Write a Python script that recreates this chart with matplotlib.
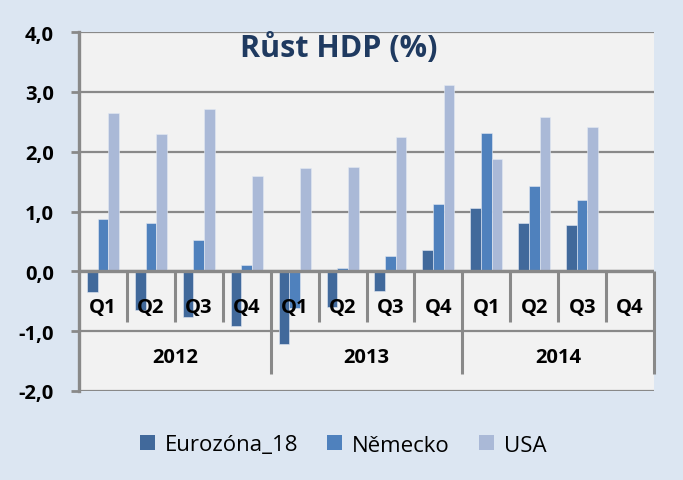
import numpy as np
import matplotlib.pyplot as plt
from matplotlib.patches import Patch

# data
years = ['2012', '2013', '2014']
quarters = ['Q1', 'Q2', 'Q3', 'Q4']
series_names = ['Eurozóna_18', 'Německo', 'USA']
eurozona = [-0.34, -0.65, -0.77, -0.92, -1.22, -0.60, -0.33, 0.36, 1.06, 0.80, 0.78, np.nan]
nemecko = [0.88, 0.81, 0.52, 0.10, -0.62, 0.05, 0.26, 1.13, 2.31, 1.42, 1.19, np.nan]
usa = [2.64, 2.30, 2.72, 1.60, 1.72, 1.75, 2.25, 3.12, 1.88, 2.58, 2.42, np.nan]
yticks = [-2, -1, 0, 1, 2, 3, 4]

colors = ['#41699B', '#4F81BD', '#AAB9D7']
grid_c = '#898989'
font = 'Open Sans'
fs = 14.5

fig = plt.figure(figsize=(6.83, 4.81), dpi=100, facecolor='#DCE6F2')
ax = fig.add_axes([79/683, 1-392/481, 575/683, 359/481])
ax.set_facecolor('#F2F2F2')

n = len(years) * len(quarters)
x = np.arange(n) + 0.5
bw = 1 / 4.5
for k, (vals, c) in enumerate(zip([eurozona, nemecko, usa], colors)):
    ax.bar(x + (k - 1) * bw, vals, width=bw, color=c, edgecolor='#E3E9F3',
           linewidth=0.4, zorder=3)

ax.set_xlim(0, n)
ax.set_ylim(-2, 4)
ax.set_yticks(yticks)
ax.set_yticklabels([('%.1f' % v).replace('.', ',') for v in yticks],
                   fontsize=fs, fontweight='bold', family=font)
for v in yticks:
    ax.axhline(v, color=grid_c, lw=1.6, zorder=1)
ax.axhline(0, color=grid_c, lw=2.4, zorder=4)
ax.set_xticks([])
for s in ['top', 'right', 'bottom']:
    ax.spines[s].set_visible(False)
ax.spines['left'].set_color(grid_c)
ax.spines['left'].set_linewidth(2.4)
ax.tick_params(axis='y', length=6, width=2, color=grid_c, pad=12)

# two-level category axis
for i in range(n + 1):
    if i % 4 == 0:
        if i > 0:
            ax.plot([i, i], [0, -1.72], color=grid_c, lw=2.2, zorder=4,
                    solid_capstyle='butt', clip_on=False)
    else:
        ax.plot([i, i], [0, -0.85], color=grid_c, lw=2.2, zorder=4,
                solid_capstyle='butt')
for i in range(n):
    ax.text(i + 0.5, -0.6, quarters[i % 4], ha='center', va='center',
            fontsize=fs, fontweight='bold', family=font, zorder=5)
for j, yr in enumerate(years):
    ax.text(j * 4 + 2, -1.43, yr, ha='center', va='center',
            fontsize=fs, fontweight='bold', family=font, zorder=5)

fig.text(339/683, 1-48/481, 'Růst HDP (%)', ha='center', va='center',
         fontsize=22, fontweight='bold', color='#1F3A60', family=font)

handles = [Patch(facecolor=c, edgecolor='none') for c in colors]
fig.legend(handles, series_names, loc='center', bbox_to_anchor=(343/683, 1-446/481),
           ncol=3, frameon=False, prop={'family': font, 'size': 16},
           handlelength=0.68, handleheight=0.68, handletextpad=0.45, columnspacing=1.3)

fig.savefig('out.png', dpi=100, facecolor=fig.get_facecolor())
